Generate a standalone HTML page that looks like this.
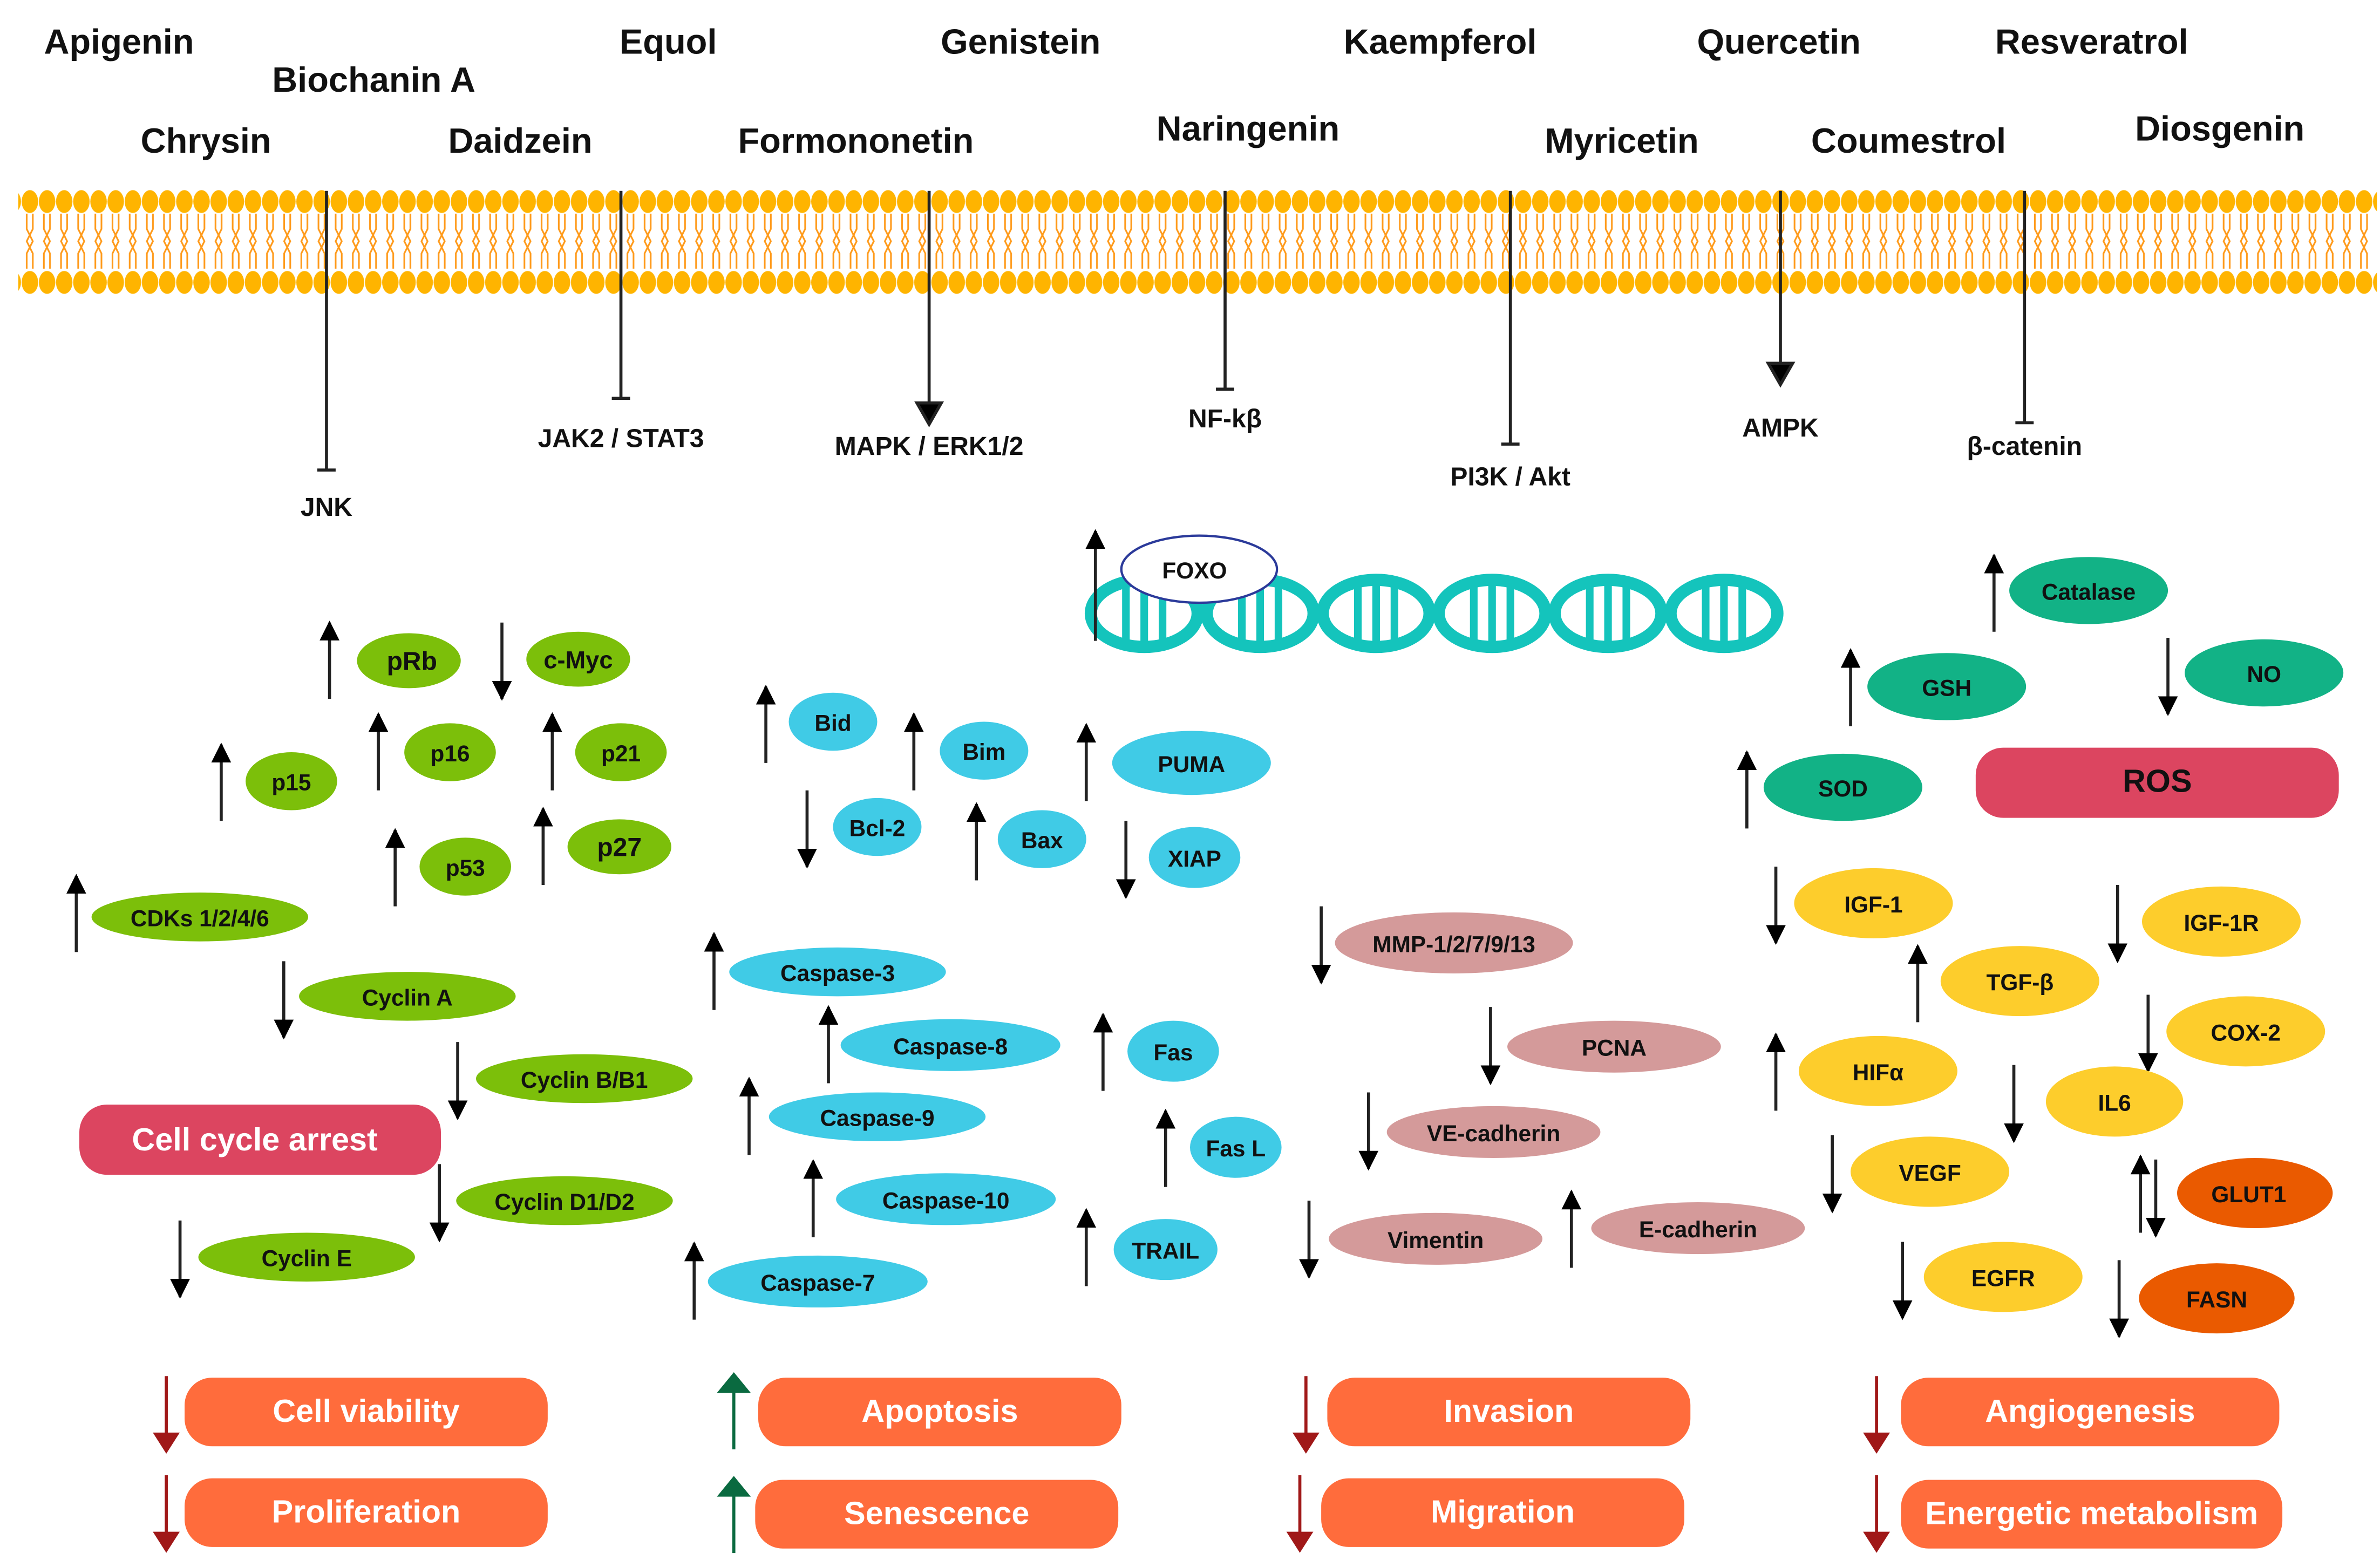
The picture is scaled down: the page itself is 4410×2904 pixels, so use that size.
<!DOCTYPE html>
<html><head><meta charset="utf-8"><style>
html,body{margin:0;padding:0;background:#fff;}
svg{display:block;}
text{font-family:"Liberation Sans",Arial,sans-serif;font-weight:bold;text-anchor:middle;}
</style></head><body>
<svg width="4410" height="2904" viewBox="0 0 1560 1027" xmlns="http://www.w3.org/2000/svg">
<defs>
<pattern id="mem" x="14" y="0" width="11.25" height="1027" patternUnits="userSpaceOnUse">
<g stroke="#ff9a1a" stroke-width="1.1" fill="none">
<path d="M3.5 140 L3.5 150 L7.5 158 L3.5 166 L3.5 176"/>
<path d="M7.5 140 L7.5 150 L3.5 158 L7.5 166 L7.5 176"/>
</g>
<ellipse cx="5.6" cy="132" rx="5.4" ry="7.5" fill="#ffb400"/>
<ellipse cx="5.6" cy="185" rx="5.4" ry="7.5" fill="#ffb400"/>
</pattern>
<marker id="ah" viewBox="0 0 10 10" refX="9" refY="5" markerWidth="13" markerHeight="15" orient="auto" markerUnits="userSpaceOnUse"><path d="M0 0 L10 5 L0 10 Z" fill="#000"/></marker>
</defs>
<rect x="12" y="122" width="1546" height="72" fill="url(#mem)"/>

<g font-size="23" fill="#111">
<text x="78" y="35">Apigenin</text><text x="245" y="60">Biochanin A</text><text x="438" y="35">Equol</text><text x="669" y="35">Genistein</text><text x="944" y="35">Kaempferol</text><text x="1166" y="35">Quercetin</text><text x="1371" y="35">Resveratrol</text>
<text x="135" y="100">Chrysin</text><text x="341" y="100">Daidzein</text><text x="561" y="100">Formononetin</text><text x="818" y="92">Naringenin</text><text x="1063" y="100">Myricetin</text><text x="1251" y="100">Coumestrol</text><text x="1455" y="92">Diosgenin</text>
</g>

<g stroke="#222" stroke-width="2" fill="none">
<line x1="214" y1="125" x2="214" y2="308"/><line x1="208" y1="308" x2="220" y2="308"/>
<line x1="407" y1="125" x2="407" y2="261"/><line x1="401" y1="261" x2="413" y2="261"/>
<line x1="803" y1="125" x2="803" y2="255"/><line x1="797" y1="255" x2="809" y2="255"/>
<line x1="990" y1="125" x2="990" y2="291"/><line x1="984" y1="291" x2="996" y2="291"/>
<line x1="1327" y1="125" x2="1327" y2="277"/><line x1="1321" y1="277" x2="1333" y2="277"/>
</g>
<g stroke="#222" stroke-width="2">
<line x1="609" y1="125" x2="609" y2="266"/><path d="M601 264 L617 264 L609 278Z" fill="#000"/>
<line x1="1167" y1="125" x2="1167" y2="240"/><path d="M1159 238 L1175 238 L1167 252Z" fill="#000"/>
</g>
<g font-size="17" fill="#111">
<text x="214" y="338">JNK</text><text x="407" y="293">JAK2 / STAT3</text><text x="609" y="298">MAPK / ERK1/2</text><text x="803" y="280">NF-kβ</text><text x="990" y="318">PI3K / Akt</text><text x="1167" y="286">AMPK</text><text x="1327" y="298">β-catenin</text>
</g>

<!-- DNA -->
<g stroke="#14c4bc" fill="none">
<g stroke-width="8">
<ellipse cx="750" cy="402" rx="35" ry="22"/><ellipse cx="826" cy="402" rx="35" ry="22"/><ellipse cx="902" cy="402" rx="35" ry="22"/><ellipse cx="978" cy="402" rx="35" ry="22"/><ellipse cx="1054" cy="402" rx="35" ry="22"/><ellipse cx="1130" cy="402" rx="35" ry="22"/>
</g>
<g stroke-width="5">
<path d="M738 384v36M750 382v40M762 384v36M814 384v36M826 382v40M838 384v36M890 384v36M902 382v40M914 384v36M966 384v36M978 382v40M990 384v36M1042 384v36M1054 382v40M1066 384v36M1118 384v36M1130 382v40M1142 384v36"/>
</g>
</g>
<ellipse cx="786" cy="373" rx="51" ry="22" fill="#fff" stroke="#2b3a9a" stroke-width="1.5"/>
<text x="783" y="379" font-size="15" fill="#111">FOXO</text>

<!-- arrows -->
<g stroke="#222" stroke-width="2" marker-end="url(#ah)">
<line x1="718" y1="420" x2="718" y2="348"/>
<line x1="216" y1="458" x2="216" y2="408"/><line x1="329" y1="408" x2="329" y2="458"/>
<line x1="248" y1="518" x2="248" y2="468"/><line x1="362" y1="518" x2="362" y2="468"/>
<line x1="145" y1="538" x2="145" y2="488"/><line x1="259" y1="594" x2="259" y2="544"/>
<line x1="356" y1="580" x2="356" y2="530"/><line x1="50" y1="624" x2="50" y2="574"/>
<line x1="186" y1="630" x2="186" y2="680"/><line x1="300" y1="683" x2="300" y2="733"/>
<line x1="288" y1="763" x2="288" y2="813"/><line x1="118" y1="800" x2="118" y2="850"/>

<line x1="502" y1="500" x2="502" y2="450"/><line x1="599" y1="518" x2="599" y2="468"/>
<line x1="712" y1="525" x2="712" y2="475"/><line x1="529" y1="518" x2="529" y2="568"/>
<line x1="640" y1="577" x2="640" y2="527"/><line x1="738" y1="538" x2="738" y2="588"/>
<line x1="468" y1="662" x2="468" y2="612"/><line x1="543" y1="710" x2="543" y2="660"/>
<line x1="723" y1="715" x2="723" y2="665"/><line x1="491" y1="757" x2="491" y2="707"/>
<line x1="764" y1="778" x2="764" y2="728"/><line x1="533" y1="811" x2="533" y2="761"/>
<line x1="712" y1="843" x2="712" y2="793"/><line x1="455" y1="865" x2="455" y2="815"/>

<line x1="866" y1="594" x2="866" y2="644"/><line x1="977" y1="660" x2="977" y2="710"/>
<line x1="897" y1="716" x2="897" y2="766"/><line x1="858" y1="787" x2="858" y2="837"/>
<line x1="1030" y1="831" x2="1030" y2="781"/>

<line x1="1307" y1="414" x2="1307" y2="364"/><line x1="1213" y1="476" x2="1213" y2="426"/>
<line x1="1421" y1="418" x2="1421" y2="468"/><line x1="1145" y1="543" x2="1145" y2="493"/>

<line x1="1164" y1="568" x2="1164" y2="618"/><line x1="1388" y1="580" x2="1388" y2="630"/>
<line x1="1257" y1="670" x2="1257" y2="620"/><line x1="1408" y1="652" x2="1408" y2="702"/>
<line x1="1164" y1="728" x2="1164" y2="678"/><line x1="1320" y1="698" x2="1320" y2="748"/>
<line x1="1201" y1="744" x2="1201" y2="794"/><line x1="1403" y1="808" x2="1403" y2="758"/>
<line x1="1413" y1="760" x2="1413" y2="810"/><line x1="1247" y1="814" x2="1247" y2="864"/>
<line x1="1389" y1="826" x2="1389" y2="876"/>
</g>

<!-- green -->
<g fill="#7cbf0a">
<ellipse cx="268" cy="433" rx="34" ry="18"/><ellipse cx="379" cy="432" rx="34" ry="18"/>
<ellipse cx="295" cy="493" rx="30" ry="19"/><ellipse cx="407" cy="493" rx="30" ry="19"/>
<ellipse cx="191" cy="512" rx="30" ry="19"/><ellipse cx="305" cy="568" rx="30" ry="19"/>
<ellipse cx="406" cy="555" rx="34" ry="18"/>
<ellipse cx="131" cy="601" rx="71" ry="16"/><ellipse cx="267" cy="653" rx="71" ry="16"/>
<ellipse cx="383" cy="707" rx="71" ry="16"/><ellipse cx="370" cy="787" rx="71" ry="16"/>
<ellipse cx="201" cy="824" rx="71" ry="16"/>
</g>
<g font-size="15" fill="#111">
<text x="270" y="439" font-size="17">pRb</text><text x="379" y="438" font-size="16">c-Myc</text>
<text x="295" y="499">p16</text><text x="407" y="499">p21</text><text x="191" y="518">p15</text><text x="305" y="574">p53</text><text x="406" y="561" font-size="17">p27</text>
<text x="131" y="607">CDKs 1/2/4/6</text><text x="267" y="659">Cyclin A</text><text x="383" y="713">Cyclin B/B1</text><text x="370" y="793">Cyclin D1/D2</text><text x="201" y="830">Cyclin E</text>
</g>
<rect x="52" y="724" width="237" height="46" rx="18" fill="#dc4560"/>
<text x="167" y="754" font-size="21" fill="#fff">Cell cycle arrest</text>

<!-- blue -->
<g fill="#40cbe6">
<ellipse cx="546" cy="473" rx="29" ry="19"/><ellipse cx="645" cy="492" rx="29" ry="19"/>
<ellipse cx="781" cy="500" rx="52" ry="21"/><ellipse cx="575" cy="542" rx="29" ry="19"/>
<ellipse cx="683" cy="550" rx="29" ry="19"/><ellipse cx="783" cy="562" rx="30" ry="20"/>
<ellipse cx="549" cy="637" rx="71" ry="16"/><ellipse cx="623" cy="685" rx="72" ry="17"/>
<ellipse cx="575" cy="732" rx="71" ry="16"/><ellipse cx="620" cy="786" rx="72" ry="17"/>
<ellipse cx="536" cy="840" rx="72" ry="17"/>
<ellipse cx="769" cy="689" rx="30" ry="20"/><ellipse cx="810" cy="752" rx="30" ry="20"/>
<ellipse cx="764" cy="819" rx="34" ry="20"/>
</g>
<g font-size="15" fill="#111">
<text x="546" y="479">Bid</text><text x="645" y="498">Bim</text><text x="781" y="506">PUMA</text><text x="575" y="548">Bcl-2</text><text x="683" y="556">Bax</text><text x="783" y="568">XIAP</text>
<text x="549" y="643">Caspase-3</text><text x="623" y="691">Caspase-8</text><text x="575" y="738">Caspase-9</text><text x="620" y="792">Caspase-10</text><text x="536" y="846">Caspase-7</text>
<text x="769" y="695">Fas</text><text x="810" y="758">Fas L</text><text x="764" y="825">TRAIL</text>
</g>

<!-- pink -->
<g fill="#d49a9a">
<ellipse cx="953" cy="618" rx="78" ry="20"/><ellipse cx="1058" cy="686" rx="70" ry="17"/>
<ellipse cx="979" cy="742" rx="70" ry="17"/><ellipse cx="941" cy="812" rx="70" ry="17"/>
<ellipse cx="1113" cy="805" rx="70" ry="17"/>
</g>
<g font-size="15" fill="#111">
<text x="953" y="624">MMP-1/2/7/9/13</text><text x="1058" y="692">PCNA</text><text x="979" y="748">VE-cadherin</text><text x="941" y="818">Vimentin</text><text x="1113" y="811">E-cadherin</text>
</g>

<!-- teal -->
<g fill="#12b286">
<ellipse cx="1369" cy="387" rx="52" ry="22"/><ellipse cx="1276" cy="450" rx="52" ry="22"/>
<ellipse cx="1484" cy="441" rx="52" ry="22"/><ellipse cx="1208" cy="516" rx="52" ry="22"/>
</g>
<g font-size="15" fill="#111">
<text x="1369" y="393">Catalase</text><text x="1276" y="456">GSH</text><text x="1484" y="447">NO</text><text x="1208" y="522">SOD</text>
</g>
<rect x="1295" y="490" width="238" height="46" rx="18" fill="#dc4560"/>
<text x="1414" y="519" font-size="21" fill="#111" font-weight="normal">ROS</text>

<!-- yellow/orange -->
<g fill="#fdcd2c">
<ellipse cx="1228" cy="592" rx="52" ry="23"/><ellipse cx="1456" cy="604" rx="52" ry="23"/>
<ellipse cx="1324" cy="643" rx="52" ry="23"/><ellipse cx="1472" cy="676" rx="52" ry="23"/>
<ellipse cx="1231" cy="702" rx="52" ry="23"/><ellipse cx="1386" cy="722" rx="45" ry="23"/>
<ellipse cx="1265" cy="768" rx="52" ry="23"/><ellipse cx="1313" cy="837" rx="52" ry="23"/>
</g>
<g fill="#ea5a00">
<ellipse cx="1478" cy="782" rx="51" ry="23"/><ellipse cx="1453" cy="851" rx="51" ry="23"/>
</g>
<g font-size="15" fill="#111">
<text x="1228" y="598">IGF-1</text><text x="1456" y="610">IGF-1R</text><text x="1324" y="649">TGF-β</text><text x="1472" y="682">COX-2</text><text x="1231" y="708">HIFα</text><text x="1386" y="728">IL6</text><text x="1265" y="774">VEGF</text><text x="1313" y="843">EGFR</text><text x="1474" y="788">GLUT1</text><text x="1453" y="857">FASN</text>
</g>

<!-- bottom -->
<g fill="#ff6c3c">
<rect x="121" y="903" width="238" height="45" rx="18"/><rect x="121" y="969" width="238" height="45" rx="18"/>
<rect x="497" y="903" width="238" height="45" rx="18"/><rect x="495" y="970" width="238" height="45" rx="18"/>
<rect x="870" y="903" width="238" height="45" rx="18"/><rect x="866" y="969" width="238" height="45" rx="18"/>
<rect x="1246" y="903" width="248" height="45" rx="18"/><rect x="1246" y="970" width="250" height="45" rx="18"/>
</g>
<g font-size="21" fill="#fff">
<text x="240" y="932">Cell viability</text><text x="240" y="998">Proliferation</text>
<text x="616" y="932">Apoptosis</text><text x="614" y="999">Senescence</text>
<text x="989" y="932">Invasion</text><text x="985" y="998">Migration</text>
<text x="1370" y="932">Angiogenesis</text><text x="1371" y="999">Energetic metabolism</text>
</g>
<g stroke="#a01818" stroke-width="2" fill="#a01818">
<line x1="109" y1="902" x2="109" y2="942"/><path d="M102 940 L116 940 L109 951Z"/>
<line x1="109" y1="967" x2="109" y2="1007"/><path d="M102 1005 L116 1005 L109 1016Z"/>
<line x1="856" y1="902" x2="856" y2="942"/><path d="M849 940 L863 940 L856 951Z"/>
<line x1="852" y1="967" x2="852" y2="1007"/><path d="M845 1005 L859 1005 L852 1016Z"/>
<line x1="1230" y1="902" x2="1230" y2="942"/><path d="M1223 940 L1237 940 L1230 951Z"/>
<line x1="1230" y1="967" x2="1230" y2="1007"/><path d="M1223 1005 L1237 1005 L1230 1016Z"/>
</g>
<g stroke="#0a6a40" stroke-width="2" fill="#0a6a40">
<line x1="481" y1="950" x2="481" y2="910"/><path d="M472 912 L490 912 L481 901Z"/>
<line x1="481" y1="1018" x2="481" y2="978"/><path d="M472 980 L490 980 L481 969Z"/>
</g>
</svg>
</body></html>
